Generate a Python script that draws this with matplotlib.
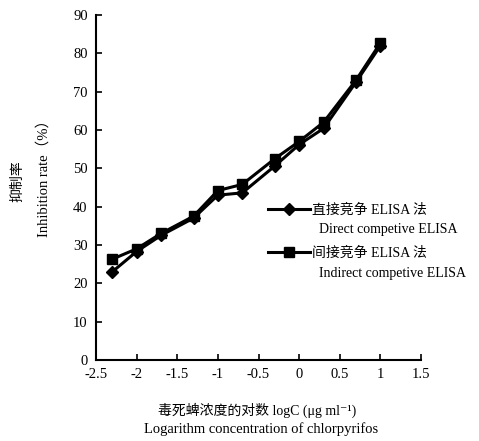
import matplotlib
matplotlib.use("Agg")
import matplotlib.pyplot as plt
from matplotlib.lines import Line2D

# log10 of concentration (ug/ml)
log_conc = [-2.3, -2.0, -1.7, -1.3, -1.0, -0.7, -0.3, 0.0, 0.3, 0.7, 1.0]
direct = [23.0, 28.3, 32.5, 37.0, 43.0, 43.6, 50.6, 56.2, 60.4, 72.5, 82.0]
indirect = [26.3, 29.0, 33.0, 37.5, 44.2, 45.8, 52.5, 57.0, 62.0, 73.0, 82.7]

x_ticks = [-2.5, -2, -1.5, -1, -0.5, 0, 0.5, 1, 1.5]
x_ticklabels = ["-2.5", "-2", "-1.5", "-1", "-0.5", "0", "0.5", "1", "1.5"]
y_ticks = [0, 10, 20, 30, 40, 50, 60, 70, 80, 90]

fonts = ["Liberation Serif", "Noto Sans CJK SC", "DejaVu Serif"]
plt.rcParams["font.family"] = fonts

fig = plt.figure(figsize=(4.79, 4.41), dpi=100)
ax = fig.add_axes([0.2004, 0.1837, 0.6786, 0.7823])

ax.plot(log_conc, direct, color="black", lw=2.2, marker="D", ms=6.5,
        markerfacecolor="black", markeredgecolor="black")
ax.plot(log_conc, indirect, color="black", lw=2.2, marker="s", ms=7.5,
        markerfacecolor="black", markeredgecolor="black")

ax.set_xlim(-2.5, 1.5)
ax.set_ylim(0, 90)
ax.set_xticks(x_ticks)
ax.set_xticklabels(x_ticklabels)
ax.set_yticks(y_ticks)
ax.tick_params(direction="in", length=4, width=1.2, labelsize=10.5, pad=6)
ax.spines["top"].set_visible(False)
ax.spines["right"].set_visible(False)
for s in ("left", "bottom"):
    ax.spines[s].set_linewidth(1.5)

# y axis titles
fig.text(0.038, 0.59, "抑制率", rotation=90, ha="center", va="center", fontsize=10)
fig.text(0.092, 0.603, "Inhibition rate（%）", rotation=90, ha="center", va="center", fontsize=10.5)

# x axis titles
fig.text(0.537, 0.070, "毒死蜱浓度的对数 logC (μg ml⁻¹)", ha="center", va="center", fontsize=10)
fig.text(0.544, 0.028, "Logarithm concentration of chlorpyrifos", ha="center", va="center", fontsize=10.5)

blank = Line2D([], [], color="none")
h_direct = Line2D([], [], color="black", lw=2.2, marker="D", ms=6.5)
h_indirect = Line2D([], [], color="black", lw=2.2, marker="s", ms=7.5)
leg_kw = dict(loc="upper left", bbox_transform=fig.transFigure, frameon=False,
              fontsize=10, handlelength=3.0, handletextpad=0.1,
              labelspacing=0.5, borderpad=0)
leg1 = ax.legend([h_direct, blank], ["直接竞争 ELISA 法", "  Direct competive ELISA"],
                 bbox_to_anchor=(0.546, 0.555), **leg_kw)
ax.add_artist(leg1)
ax.legend([h_indirect, blank], ["间接竞争 ELISA 法", "  Indirect competive ELISA"],
          bbox_to_anchor=(0.546, 0.456), **leg_kw)

fig.savefig("out.png", dpi=100)
